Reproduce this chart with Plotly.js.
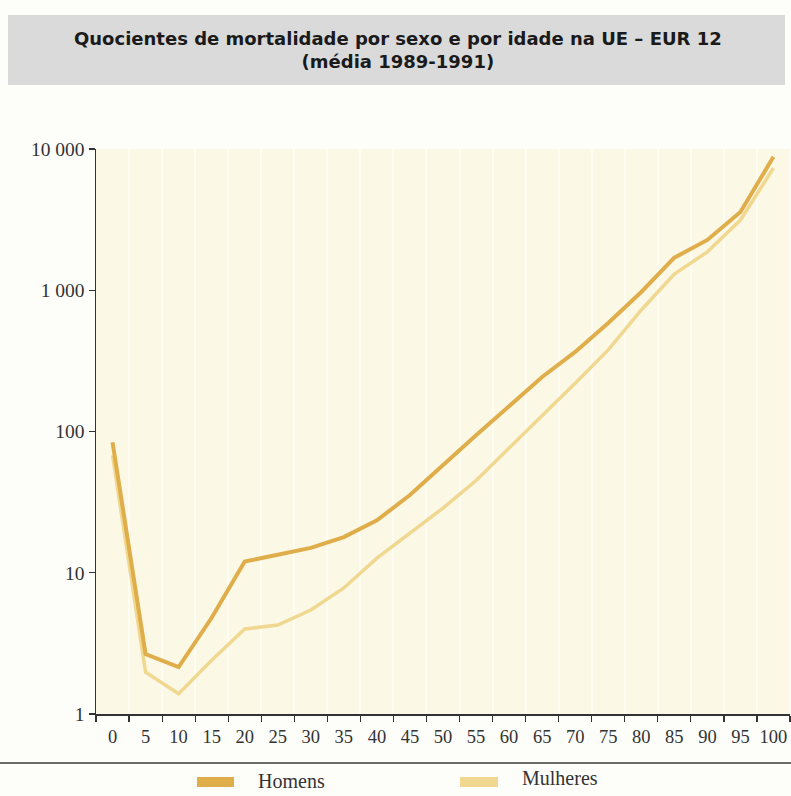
<!DOCTYPE html>
<html>
<head>
<meta charset="utf-8">
<script src="https://cdn.plot.ly/plotly-3.0.1.min.js"></script>
<style>
  html, body { margin: 0; padding: 0; background: #fdfdfa; }
  #chart { width: 791px; height: 796px; }
</style>
</head>
<body>
<div id="chart"></div>
<script>
// Age groups (years)
const ages = ['0', '5', '10', '15', '20', '25', '30', '35', '40', '45', '50',
              '55', '60', '65', '70', '75', '80', '85', '90', '95', '100'];

// Mortality quotients per 10 000, EUR 12, average 1989-1991
const homens = [84, 2.66, 2.15, 4.8, 12.0, 13.4, 15.0, 17.9, 23.5, 35.5, 58,
                94, 151, 243, 366, 586, 972, 1700, 2270, 3580, 8800];
const mulheres = [68, 1.98, 1.39, 2.4, 4.0, 4.26, 5.45, 7.8, 12.7, 19, 28.7,
                  45, 76, 130, 220, 378, 725, 1300, 1870, 3140, 7330];

const yTickVals = [1, 10, 100, 1000, 10000];
const yTickText = ['1', '10', '100', '1 000', '10 000'];

const seriesNames = ['Homens', 'Mulheres'];
const seriesColors = ['#dfae4a', '#f0d891'];

const serif = '"Liberation Serif", "DejaVu Serif", serif';

const traces = [
  {
    x: ages, y: mulheres, name: seriesNames[1], type: 'scatter', mode: 'lines',
    line: { color: seriesColors[1], width: 3.5 }, showlegend: false
  },
  {
    x: ages, y: homens, name: seriesNames[0], type: 'scatter', mode: 'lines',
    line: { color: seriesColors[0], width: 4 }, showlegend: false
  }
];

// Pixel helpers for the decorations outside the plot area
const W = 791, H = 796;
const M = { l: 96, r: 1, t: 149, b: 82 };
const pw = W - M.l - M.r, ph = H - M.t - M.b;
const px = x => (x - M.l) / pw;
const py = y => (H - M.b - y) / ph;

const shapes = [
  // grey title band
  { type: 'rect', xref: 'paper', yref: 'paper', x0: px(8), x1: px(785), y0: py(85), y1: py(15),
    fillcolor: '#dadada', line: { width: 0 }, layer: 'below' },
  // rule under the axis labels
  { type: 'line', xref: 'paper', yref: 'paper', x0: px(0), x1: px(791), y0: py(763), y1: py(763),
    line: { color: '#3a3a3a', width: 1.5 } },
  // legend swatches
  { type: 'rect', xref: 'paper', yref: 'paper', x0: px(197), x1: px(234), y0: py(787), y1: py(777),
    fillcolor: seriesColors[0], line: { width: 0 } },
  { type: 'rect', xref: 'paper', yref: 'paper', x0: px(460), x1: px(498), y0: py(787), y1: py(777),
    fillcolor: seriesColors[1], line: { width: 0 } }
];

const annotations = [
  { xref: 'paper', yref: 'paper', x: px(256), y: py(781), xanchor: 'left', yanchor: 'middle',
    text: seriesNames[0], showarrow: false, font: { family: serif, size: 20, color: '#333' } },
  { xref: 'paper', yref: 'paper', x: px(520), y: py(778), xanchor: 'left', yanchor: 'middle',
    text: seriesNames[1], showarrow: false, font: { family: serif, size: 20, color: '#333' } }
];

const layout = {
  width: W, height: H,
  margin: M,
  paper_bgcolor: '#fdfdfa',
  plot_bgcolor: '#fcf8e6',
  title: {
    text: 'Quocientes de mortalidade por sexo e por idade na UE – EUR 12<br>(média 1989-1991)',
    font: { family: '"DejaVu Sans", sans-serif', size: 18, weight: 'bold', color: '#1a1a1a' },
    x: 0.503, xref: 'container', xanchor: 'center',
    y: 1 - 45 / H, yref: 'container', yanchor: 'middle'
  },
  xaxis: {
    type: 'category',
    range: [-0.5, 20.5],
    tickson: 'boundaries',
    tickangle: 0,
    ticks: 'outside', ticklen: 6, tickwidth: 1.2, tickcolor: '#333',
    ticklabelstandoff: 5,
    showline: true, linecolor: '#333', linewidth: 1.5,
    showgrid: true, gridcolor: '#fefdf4', gridwidth: 2,
    tickfont: { family: serif, size: 18.5, color: '#333' },
    zeroline: false, fixedrange: true
  },
  yaxis: {
    type: 'log',
    range: [0, 4],
    tickvals: yTickVals, ticktext: yTickText,
    ticks: 'outside', ticklen: 6, tickwidth: 1.2, tickcolor: '#333',
    showline: true, linecolor: '#333', linewidth: 1.5,
    showgrid: false, zeroline: false,
    tickfont: { family: serif, size: 19.5, color: '#333' },
    fixedrange: true
  },
  shapes: shapes,
  annotations: annotations,
  showlegend: false
};

Plotly.newPlot('chart', traces, layout, { displayModeBar: false, staticPlot: true });
</script>
</body>
</html>
